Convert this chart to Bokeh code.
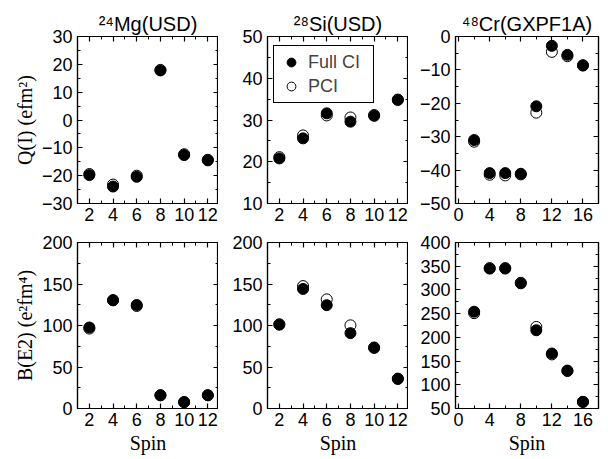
from bokeh.plotting import figure
from bokeh.models import (Legend, LegendItem, LinearAxis, SingleIntervalTicker, Range1d,
                          Title, CustomLabelingPolicy)
from bokeh.layouts import column, row
from bokeh.embed import file_html
from bokeh.resources import INLINE

# ---- data ----
mg_spin = [2, 4, 6, 8, 10, 12]
mg_q_full = [-19.8, -23.9, -20.4, 17.8, -12.6, -14.5]
mg_q_pci = [-19.4, -23.2, -20.0, 18.0, -12.3, -14.3]
mg_be2_full = [97.6, 130.3, 124.7, 15.9, 7.6, 15.9]
mg_be2_pci = [96.3, 130.6, 123.5, 16.0, 7.8, 16.0]

si_spin = [2, 4, 6, 8, 10, 12]
si_q_full = [20.8, 25.6, 31.6, 29.6, 31.0, 34.8]
si_q_pci = [21.1, 26.3, 31.1, 30.6, 31.2, 34.9]
si_be2_full = [101.0, 144.0, 124.5, 90.8, 73.0, 35.6]
si_be2_pci = [101.5, 147.5, 131.5, 100.2, 73.5, 36.0]

cr_spin = [2, 4, 6, 8, 10, 12, 14, 16]
cr_q_full = [-31.0, -40.9, -40.9, -41.1, -20.9, -2.8, -5.5, -8.6]
cr_q_pci = [-31.5, -41.4, -41.6, -41.3, -22.8, -4.6, -5.9, -8.7]
cr_be2_full = [254.0, 345.0, 345.0, 314.0, 215.0, 166.0, 130.0, 64.0]
cr_be2_pci = [251.0, 346.0, 346.0, 315.0, 222.0, 164.0, 129.0, 64.0]

titles = ["\u00b2\u2074Mg(USD)", "\u00b2\u2078Si(USD)", "\u2074\u2078Cr(GXPF1A)"]
q_label = "Q(I) (efm\u00b2)"
be2_label = "B(E2) (e\u00b2fm\u2074)"
x_label = "Spin"
legend_labels = ["Full CI", "PCI"]

SANS = "Liberation Sans"
SERIF = "Liberation Serif"
TICK_FS = "18px"

NO_LABELS = CustomLabelingPolicy(code="""
    for (const i of indices) {
        indices.unset(i)
    }
    return indices
""")


def style_axis(ax, show_labels=True):
    ax.major_tick_in = 5
    ax.major_tick_out = 0
    ax.minor_tick_in = 3
    ax.minor_tick_out = 0
    ax.axis_line_color = "black"
    ax.axis_line_width = 1.2
    ax.major_tick_line_width = 1.2
    ax.minor_tick_line_width = 1
    if show_labels:
        ax.major_label_text_font = SANS
        ax.major_label_text_font_size = TICK_FS
        ax.major_label_text_color = "black"
        ax.major_label_standoff = 5
    else:
        ax.major_label_text_font_size = "0px"
        ax.major_label_standoff = 0
        ax.major_label_policy = NO_LABELS
    ax.axis_label_text_font = SERIF
    ax.axis_label_text_font_size = "20px"
    ax.axis_label_text_font_style = "normal"
    ax.axis_label_text_color = "black"
    ax.axis_label_standoff = 3


def panel(xr, yr, xint, yint, fw, fh, bl, br, bt, bb, ylab=None, xlab=None, title=None, toff=0):
    p = figure(frame_width=fw, frame_height=fh,
               x_range=Range1d(*xr), y_range=Range1d(*yr),
               output_backend="svg", toolbar_location=None,
               min_border_left=bl, min_border_right=br,
               min_border_top=bt, min_border_bottom=bb)
    p.xgrid.visible = False
    p.ygrid.visible = False
    p.outline_line_color = "black"
    p.outline_line_width = 1.2
    p.background_fill_color = "white"
    p.border_fill_color = "white"
    xt = SingleIntervalTicker(interval=xint, num_minor_ticks=2)
    yt = SingleIntervalTicker(interval=yint, num_minor_ticks=2)
    p.xaxis.ticker = xt
    p.yaxis.ticker = yt
    style_axis(p.xaxis[0])
    style_axis(p.yaxis[0])
    p.xaxis.major_label_standoff = 4
    if ylab:
        p.yaxis.axis_label = ylab
    if xlab:
        p.xaxis.axis_label = xlab
    top = LinearAxis(ticker=xt)
    right = LinearAxis(ticker=yt)
    style_axis(top, False)
    style_axis(right, False)
    p.add_layout(top, "above")
    p.add_layout(right, "right")
    if title:
        p.add_layout(Title(text=title, align="center", offset=toff, standoff=3,
                           text_font=SANS, text_font_size="20px",
                           text_font_style="normal", text_color="black"), "above")
    return p


def points(p, xs, full, pci):
    r_pci = p.scatter(xs, pci, size=11, marker="circle", fill_color="white",
                      line_color="black", line_width=1)
    r_full = p.scatter(xs, full, size=11, marker="circle", fill_color="black",
                       line_color="black", line_width=1)
    return r_full, r_pci


FH_TOP, FH_BOT = 167, 166

p1 = panel((1.0, 12.9), (-30, 30), 2, 10, 141, FH_TOP, 77, 0, 36, 30,
           ylab=q_label, title=titles[0], toff=-3)
points(p1, mg_spin, mg_q_full, mg_q_pci)

p2 = panel((1.0, 12.9), (10, 50), 2, 10, 141, FH_TOP, 49, 0, 36, 30,
           title=titles[1], toff=-4)
rf, rp = points(p2, si_spin, si_q_full, si_q_pci)
LEG_H = 56
leg = Legend(items=[LegendItem(label=legend_labels[0], renderers=[rf]),
                    LegendItem(label=legend_labels[1], renderers=[rp])],
             location=(6, FH_TOP - 11 - LEG_H), margin=0, padding=5, spacing=2,
             glyph_width=24, glyph_height=22, label_standoff=5, label_width=60,
             label_text_font=SANS, label_text_font_size="18px",
             border_line_color="black", border_line_width=1, border_line_alpha=1,
             background_fill_color="white", background_fill_alpha=1)
p2.add_layout(leg)

p3 = panel((-0.4, 18.0), (-50, 0), 4, 10, 143, FH_TOP, 47, 10, 36, 30,
           title=titles[2], toff=2)
points(p3, cr_spin, cr_q_full, cr_q_pci)

p4 = panel((1.0, 12.9), (0, 200), 2, 50, 141, FH_BOT, 77, 0, 9, 51, ylab=be2_label, xlab=x_label)
points(p4, mg_spin, mg_be2_full, mg_be2_pci)

p5 = panel((1.0, 12.9), (0, 200), 2, 50, 141, FH_BOT, 49, 0, 9, 51, xlab=x_label)
points(p5, si_spin, si_be2_full, si_be2_pci)

p6 = panel((-0.4, 18.0), (50, 400), 4, 50, 143, FH_BOT, 47, 10, 9, 51, xlab=x_label)
points(p6, cr_spin, cr_be2_full, cr_be2_pci)

layout = column(row(p1, p2, p3), row(p4, p5, p6))

open("out.html", "w").write(file_html(layout, INLINE))
